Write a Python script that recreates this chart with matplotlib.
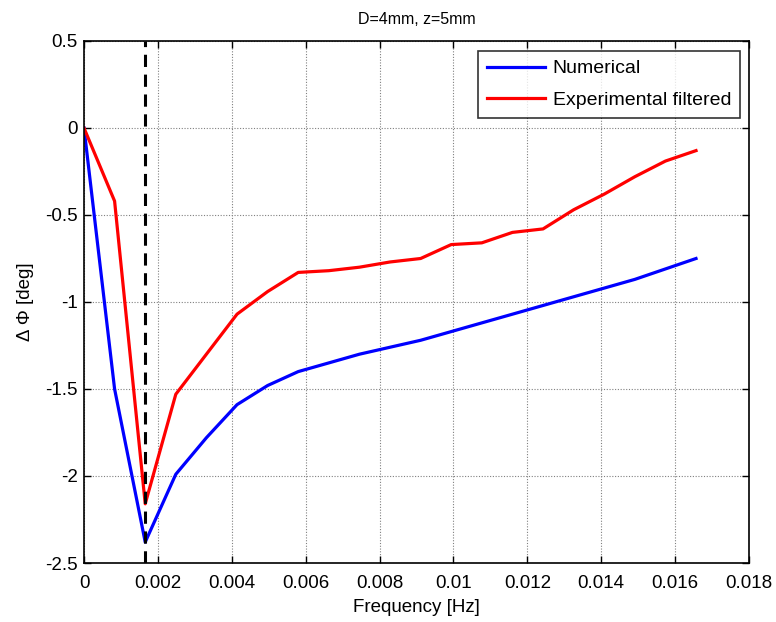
import matplotlib
matplotlib.use("Agg")
import matplotlib.pyplot as plt

plt.rcParams['font.family'] = ['Liberation Sans', 'DejaVu Sans']

# Frequency samples [Hz]
freq = [0.0, 0.000828, 0.001657, 0.002485, 0.003313, 0.004142, 0.00497,
        0.005798, 0.006627, 0.007455, 0.008283, 0.009112, 0.00994, 0.010768,
        0.011597, 0.012425, 0.013253, 0.014082, 0.01491, 0.015738, 0.016566]

# Phase difference [deg]
numerical = [0.0, -1.50, -2.38, -1.99, -1.78, -1.59, -1.48, -1.40, -1.35,
             -1.30, -1.26, -1.22, -1.17, -1.12, -1.07, -1.02, -0.97, -0.92,
             -0.87, -0.81, -0.75]
experimental = [0.0, -0.42, -2.16, -1.53, -1.30, -1.07, -0.94, -0.83, -0.82,
                -0.80, -0.77, -0.75, -0.67, -0.66, -0.60, -0.58, -0.47,
                -0.38, -0.28, -0.19, -0.13]

# Frequency marked by the vertical dashed line
f_marker = 0.001657

xticks = [0, 0.002, 0.004, 0.006, 0.008, 0.01, 0.012, 0.014, 0.016, 0.018]
xticklabels = ['0', '0.002', '0.004', '0.006', '0.008', '0.01', '0.012',
               '0.014', '0.016', '0.018']
yticks = [-2.5, -2, -1.5, -1, -0.5, 0, 0.5]
yticklabels = ['-2.5', '-2', '-1.5', '-1', '-0.5', '0', '0.5']

fig = plt.figure(figsize=(7.76, 6.22), dpi=100)
ax = fig.add_axes([84 / 776, 1 - 563 / 622, 665 / 776, 522 / 622])

ax.plot(freq, numerical, color='#0000ff', lw=2.3, label='Numerical')
ax.plot(freq, experimental, color='#ff0000', lw=2.3, label='Experimental filtered')
ax.axvline(f_marker, color='black', lw=2.2, linestyle=(0, (4, 2.5)))

ax.set_xlim(0, 0.018)
ax.set_ylim(-2.5, 0.5)
ax.set_xticks(xticks)
ax.set_xticklabels(xticklabels)
ax.set_yticks(yticks)
ax.set_yticklabels(yticklabels)

ax.grid(True, color='#808080', linestyle=(0, (1, 1.5)), linewidth=0.8)
ax.tick_params(direction='in', length=5, width=1, top=True, right=True,
               labelsize=13.5)
ax.tick_params(axis='x', pad=9)
ax.tick_params(axis='y', pad=4.5)
for s in ax.spines.values():
    s.set_linewidth(1.2)

ax.set_title('D=4mm, z=5mm', fontsize=11.5, pad=12)
ax.set_xlabel('Frequency [Hz]', fontsize=13.5, labelpad=5)
ax.set_ylabel('Δ Φ [deg]', fontsize=13.5, labelpad=8)

leg = ax.legend(loc='upper right', bbox_to_anchor=(656 / 665, 1 - 10 / 522),
                fontsize=14, frameon=True, fancybox=False,
                edgecolor='black', handlelength=3.0, handletextpad=0.4,
                borderaxespad=0, labelspacing=0.72, borderpad=0.45)
leg.get_frame().set_linewidth(1.2)

fig.savefig('out.png', dpi=100)
